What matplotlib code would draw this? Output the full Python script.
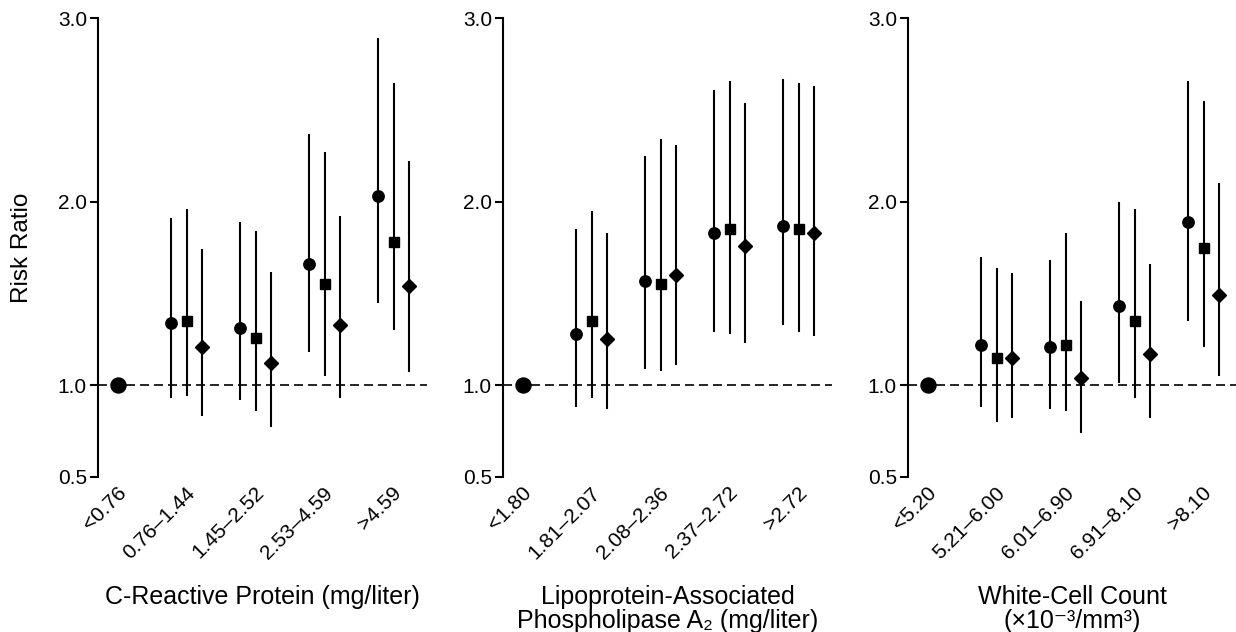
import matplotlib
matplotlib.use("Agg")
import matplotlib.pyplot as plt
import numpy as np

plt.rcParams['font.family'] = ['Liberation Sans', 'DejaVu Sans']

# ---------------- data ----------------
crp_labels = ['<0.76', '0.76–1.44', '1.45–2.52', '2.53–4.59', '>4.59']
lp_labels = ['<1.80', '1.81–2.07', '2.08–2.36', '2.37–2.72', '>2.72']
wbc_labels = ['<5.20', '5.21–6.00', '6.01–6.90', '6.91–8.10', '>8.10']

reference_value = 1.0

# quintiles 2-5: circle / square / diamond models
crp_circle = [1.34, 1.31, 1.66, 2.03]
crp_circle_lo = [0.93, 0.92, 1.18, 1.45]
crp_circle_hi = [1.91, 1.89, 2.37, 2.89]
crp_square = [1.35, 1.26, 1.55, 1.78]
crp_square_lo = [0.94, 0.86, 1.05, 1.30]
crp_square_hi = [1.96, 1.84, 2.27, 2.65]
crp_diamond = [1.21, 1.12, 1.33, 1.54]
crp_diamond_lo = [0.83, 0.77, 0.93, 1.07]
crp_diamond_hi = [1.74, 1.62, 1.92, 2.22]

lp_circle = [1.28, 1.57, 1.83, 1.87]
lp_circle_lo = [0.88, 1.09, 1.29, 1.33]
lp_circle_hi = [1.85, 2.25, 2.61, 2.67]
lp_square = [1.35, 1.55, 1.85, 1.85]
lp_square_lo = [0.93, 1.08, 1.28, 1.29]
lp_square_hi = [1.95, 2.34, 2.66, 2.65]
lp_diamond = [1.25, 1.60, 1.76, 1.83]
lp_diamond_lo = [0.87, 1.11, 1.23, 1.27]
lp_diamond_hi = [1.83, 2.31, 2.54, 2.63]

wbc_circle = [1.22, 1.21, 1.43, 1.89]
wbc_circle_lo = [0.88, 0.87, 1.01, 1.35]
wbc_circle_hi = [1.70, 1.68, 2.00, 2.66]
wbc_square = [1.15, 1.22, 1.35, 1.75]
wbc_square_lo = [0.80, 0.86, 0.93, 1.21]
wbc_square_hi = [1.64, 1.83, 1.96, 2.55]
wbc_diamond = [1.15, 1.04, 1.17, 1.49]
wbc_diamond_lo = [0.82, 0.74, 0.82, 1.05]
wbc_diamond_hi = [1.61, 1.46, 1.66, 2.10]

y_ticks = [0.5, 1.0, 2.0, 3.0]
y_ticklabels = ['0.5', '1.0', '2.0', '3.0']

panels = [
    dict(labels=crp_labels,
         series=[(crp_circle, crp_circle_lo, crp_circle_hi),
                 (crp_square, crp_square_lo, crp_square_hi),
                 (crp_diamond, crp_diamond_lo, crp_diamond_hi)],
         xlabel=['C-Reactive Protein (mg/liter)']),
    dict(labels=lp_labels,
         series=[(lp_circle, lp_circle_lo, lp_circle_hi),
                 (lp_square, lp_square_lo, lp_square_hi),
                 (lp_diamond, lp_diamond_lo, lp_diamond_hi)],
         xlabel=['Lipoprotein-Associated', 'Phospholipase A₂ (mg/liter)']),
    dict(labels=wbc_labels,
         series=[(wbc_circle, wbc_circle_lo, wbc_circle_hi),
                 (wbc_square, wbc_square_lo, wbc_square_hi),
                 (wbc_diamond, wbc_diamond_lo, wbc_diamond_hi)],
         xlabel=['White-Cell Count', '(×10⁻³/mm³)']),
]

# ---------------- layout ----------------
W, H = 1236, 632
fig = plt.figure(figsize=(W / 100, H / 100), dpi=100)

ax_lefts = [98, 503, 908]
ax_w = 329
ax_top, ax_bot = 18.3, 477.0
markers = [('o', 8.2), ('s', 7.9), ('D', 6.8)]
offsets = [-0.225, 0.0, 0.225]

for i, p in enumerate(panels):
    ax = fig.add_axes([ax_lefts[i] / W, (H - ax_bot) / H, ax_w / W, (ax_bot - ax_top) / H])
    ax.set_ylim(0.5, 3.0)
    ax.set_xlim(-0.29, 4.48)
    for s in ['top', 'right', 'bottom']:
        ax.spines[s].set_visible(False)
    ax.spines['left'].set_linewidth(1.5)
    ax.set_yticks(y_ticks)
    ax.set_yticklabels(y_ticklabels, fontsize=15)
    ax.tick_params(axis='y', direction='out', length=6, width=1.5, pad=2)
    ax.set_xticks([])

    ax.axhline(reference_value, color='black', lw=1.2, ls=(0, (5.4, 3.0)), zorder=1)

    # reference category
    ax.plot([0], [reference_value], 'o', color='black', ms=10.8, zorder=4, clip_on=False)

    cats = np.arange(1, 5)
    for (vals, lo, hi), (mk, ms), off in zip(p['series'], markers, offsets):
        x = cats + off
        ax.vlines(x, lo, hi, color='black', lw=1.5, zorder=2)
        ax.plot(x, vals, ls='none', marker=mk, ms=ms, color='black', zorder=3)

    for j, lab in enumerate(p['labels']):
        ax.annotate(lab, xy=(j, 0), xycoords=('data', 'axes fraction'),
                    xytext=(5, -13), textcoords='offset pixels',
                    rotation=45, rotation_mode='anchor', ha='right', va='center',
                    fontsize=15, annotation_clip=False)

    cx = (ax_lefts[i] + ax_w / 2) / W
    baselines = [604.0, 628.0]
    for k, line in enumerate(p['xlabel']):
        fig.text(cx, (H - baselines[k]) / H, line, ha='center', va='baseline', fontsize=18)

fig.text(22.5 / W, (H - 247.5) / H, 'Risk Ratio', rotation=90, ha='center', va='center', fontsize=17.5)

fig.savefig('out.png', dpi=100)
